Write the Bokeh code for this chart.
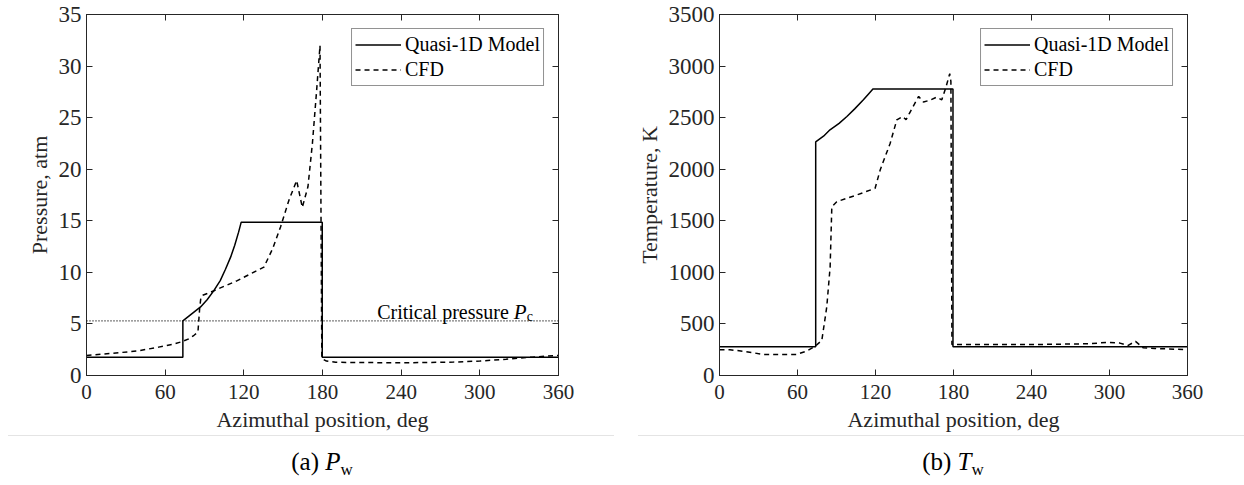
from bokeh.plotting import figure
from bokeh.models import (Range1d, FixedTicker, LinearAxis, Span, Label, Div,
                          CustomJSTickFormatter)
from bokeh.layouts import row, column
from bokeh.embed import file_html
from bokeh.resources import INLINE

FONT = "Liberation Serif"
INK = "#262626"

# ---------------- data ----------------
angle_ticks = [0, 60, 120, 180, 240, 300, 360]
pressure_ticks = [0, 5, 10, 15, 20, 25, 30, 35]
temp_ticks = [0, 500, 1000, 1500, 2000, 2500, 3000, 3500]

critical_pressure = 5.3

# (a) wall pressure, atm
p_model_x = [0, 73.5, 73.5, 80, 87, 92, 97, 102, 106, 110, 113, 116, 118, 179.8, 179.8, 360]
p_model_y = [1.77, 1.77, 5.3, 5.95, 6.65, 7.35, 8.2, 9.2, 10.3, 11.5, 12.6, 13.9, 14.87, 14.87, 1.77, 1.77]

p_cfd_x = [0, 20, 40, 55, 65, 72, 78, 82, 85, 86.3, 87.2, 88.3, 95, 105, 115, 125, 135.3,
           142, 148, 154.4, 160.3, 164.6, 168.9, 172.3, 175.5, 178.1, 179.5,
           183, 190, 240, 280, 300, 320, 340, 360]
p_cfd_y = [1.95, 2.15, 2.4, 2.75, 3.0, 3.25, 3.55, 3.9, 4.2, 6.5, 7.5, 7.76, 8.1, 8.65, 9.2, 9.85, 10.5,
           12.3, 14.4, 17.0, 18.9, 16.3, 18.3, 22.5, 27.6, 32.0, 1.65,
           1.4, 1.28, 1.23, 1.3, 1.4, 1.58, 1.78, 1.95]

# (b) wall temperature, K
t_model_x = [0, 74.0, 74.0, 80, 85, 92, 98, 104, 110.7, 115, 118, 179.6, 179.6, 360]
t_model_y = [278, 278, 2265, 2320, 2382, 2445, 2511, 2585, 2673, 2735, 2778, 2778, 278, 278]

t_cfd_x = [0, 8, 20, 34, 59, 67, 73.5, 78.7, 82.5, 85.1, 86.4, 90.2, 105.6, 119.7, 123.6, 131.3,
           136.4, 140.9, 143.5, 146, 153.2, 156.9, 162, 167.0, 171.0, 174.0, 177.1, 178.0, 178.8,
           183, 240, 285, 298, 308, 314, 320, 326, 335, 344, 360]
t_cfd_y = [250, 250, 232, 204, 204, 237, 282, 340, 664, 1053, 1636, 1685, 1750, 1815, 1993, 2252,
           2479, 2511, 2480, 2540, 2706, 2651, 2670, 2699, 2673, 2787, 2926, 2850, 300,
           300, 300, 308, 321, 314, 290, 331, 268, 262, 258, 250]


def style_axis(ax, ticks, label_size, show_labels=True):
    ax.ticker = FixedTicker(ticks=ticks)
    ax.major_tick_in = 6
    ax.major_tick_out = 0
    ax.minor_tick_line_color = None
    ax.axis_line_color = INK
    ax.major_tick_line_color = INK
    ax.axis_line_width = 1
    ax.major_label_text_font = FONT
    ax.major_label_text_font_size = label_size
    ax.major_label_text_color = INK
    ax.major_label_standoff = 5
    ax.axis_label_text_font = FONT
    ax.axis_label_text_font_size = "22px"
    ax.axis_label_text_font_style = "normal"
    ax.axis_label_text_color = INK
    if not show_labels:
        ax.formatter = CustomJSTickFormatter(code="return '';")
        ax.major_label_standoff = 0
        ax.major_label_text_font_size = "1px"


def make_panel(width, bl, br, xs_m, ys_m, xs_c, ys_c, y_ticks, y_max, y_title):
    p = figure(width=width, height=436, output_backend="svg", toolbar_location=None,
               x_range=Range1d(0, 360), y_range=Range1d(0, y_max),
               min_border_left=bl, min_border_right=br, min_border_top=14, min_border_bottom=61,
               background_fill_color="white", border_fill_color="white")
    p.grid.visible = False
    p.outline_line_color = INK
    style_axis(p.xaxis[0], angle_ticks, "21px")
    style_axis(p.yaxis[0], y_ticks, "23px")
    p.xaxis[0].axis_label = "Azimuthal position, deg"
    p.xaxis[0].major_label_standoff = 9
    p.xaxis[0].axis_label_standoff = 5
    p.yaxis[0].axis_label = y_title
    p.yaxis[0].major_label_standoff = 5
    p.yaxis[0].axis_label_standoff = 4
    top = LinearAxis()
    style_axis(top, angle_ticks, "1px", show_labels=False)
    p.add_layout(top, "above")
    right = LinearAxis()
    style_axis(right, y_ticks, "1px", show_labels=False)
    p.add_layout(right, "right")

    p.line(xs_m, ys_m, line_color="black", line_width=1.5, legend_label="Quasi-1D Model")
    p.line(xs_c, ys_c, line_color="black", line_width=1.5, line_dash="5 4", legend_label="CFD")

    lg = p.legend[0]
    lg.location = "top_right"
    lg.margin = 14
    lg.padding = 3
    lg.spacing = 0
    lg.glyph_width = 46
    lg.glyph_height = 25
    lg.label_height = 25
    lg.label_standoff = 4
    lg.label_text_font = FONT
    lg.label_text_font_size = "20px"
    lg.label_text_color = "black"
    lg.border_line_color = INK
    lg.border_line_width = 1
    lg.background_fill_alpha = 1
    return p


pa = make_panel(628, 86, 70, p_model_x, p_model_y, p_cfd_x, p_cfd_y,
                pressure_ticks, 35, "Pressure, atm")
pa.add_layout(Span(location=critical_pressure, dimension="width", line_color="black",
                   line_width=1.3, line_dash="1 2"))
pa.add_layout(Label(x=221.7, y=6.14, text="Critical pressure", text_font=FONT,
                    text_font_size="20px", text_color="black", text_baseline="alphabetic"))
pa.add_layout(Label(x=221.7, y=6.14, x_offset=136.5, text="P", text_font=FONT,
                    text_font_style="italic", text_font_size="21px", text_color="black",
                    text_baseline="alphabetic"))
pa.add_layout(Label(x=221.7, y=5.72, x_offset=149.5, text="c", text_font=FONT,
                    text_font_size="14px", text_color="black", text_baseline="alphabetic"))

pb = make_panel(616, 91, 57, t_model_x, t_model_y, t_cfd_x, t_cfd_y,
                temp_ticks, 3500, "Temperature, K")


def footer(col_width, line_left, line_width, pad, label, sym):
    html = (
        f'<div style="position:relative;width:{col_width}px;height:40px;margin:0;padding:0;">'
        f'<div style="position:absolute;left:{line_left}px;top:-1px;width:{line_width}px;'
        f'height:0;border-top:1px solid #e4e4e4;"></div>'
        f'<div style="position:absolute;left:0;top:12px;width:{col_width}px;box-sizing:border-box;'
        f'padding-left:{pad}px;text-align:center;font-family:\'{FONT}\';font-size:25px;'
        f'line-height:28px;color:black;white-space:nowrap;">{label} <i>{sym}</i>'
        f'<span style="font-size:17px;vertical-align:-5px;line-height:0;">w</span></div>'
        f'</div>')
    return Div(text=html, width=col_width, height=40, margin=0)


left_col = column(pa, footer(628, 8, 606, 16, "(a)", "P"))
right_col = column(pb, footer(616, 10, 606, 34, "(b)", "T"))
layout = row(left_col, right_col)

open("out.html", "w").write(file_html(layout, INLINE))
